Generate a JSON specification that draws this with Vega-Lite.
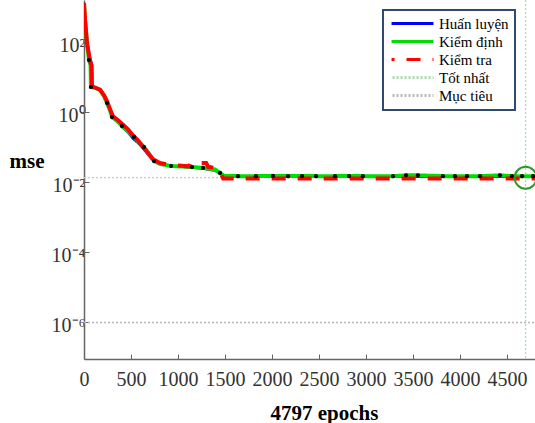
{
  "$schema": "https://vega.github.io/schema/vega-lite/v6.json",
  "width": 451,
  "height": 359,
  "autosize": {"type": "none"},
  "padding": {"left": 84, "top": 0, "right": 0, "bottom": 64},
  "background": "white",
  "config": {
    "view": {"stroke": null},
    "font": "Liberation Serif",
    "axis": {"labelFont": "Liberation Serif", "titleFont": "Liberation Serif"},
    "legend": {"labelFont": "Liberation Serif"}
  },
  "datasets": {
    "curves": [
      {"series": "Mục tiêu", "epoch": 0, "mse": 0.000001},
      {"series": "Mục tiêu", "epoch": 4797, "mse": 0.000001},
      {"series": "Tốt nhất", "epoch": 0, "mse": 0.0137},
      {"series": "Tốt nhất", "epoch": 4797, "mse": 0.0137},

      {"series": "Huấn luyện", "epoch": 0, "mse": 1346},
      {"series": "Huấn luyện", "epoch": 11, "mse": 440},
      {"series": "Huấn luyện", "epoch": 32, "mse": 96.8},
      {"series": "Huấn luyện", "epoch": 64, "mse": 36},
      {"series": "Huấn luyện", "epoch": 85, "mse": 22.8},
      {"series": "Huấn luyện", "epoch": 86, "mse": 5.7},
      {"series": "Huấn luyện", "epoch": 128, "mse": 5.0},
      {"series": "Huấn luyện", "epoch": 170, "mse": 4.4},
      {"series": "Huấn luyện", "epoch": 213, "mse": 2.96},
      {"series": "Huấn luyện", "epoch": 245, "mse": 2.0},
      {"series": "Huấn luyện", "epoch": 277, "mse": 1.15},
      {"series": "Huấn luyện", "epoch": 308, "mse": 0.72},
      {"series": "Huấn luyện", "epoch": 362, "mse": 0.52},
      {"series": "Huấn luyện", "epoch": 415, "mse": 0.37},
      {"series": "Huấn luyện", "epoch": 468, "mse": 0.27},
      {"series": "Huấn luyện", "epoch": 521, "mse": 0.18},
      {"series": "Huấn luyện", "epoch": 574, "mse": 0.135},
      {"series": "Huấn luyện", "epoch": 628, "mse": 0.095},
      {"series": "Huấn luyện", "epoch": 681, "mse": 0.063},
      {"series": "Huấn luyện", "epoch": 734, "mse": 0.043},
      {"series": "Huấn luyện", "epoch": 808, "mse": 0.034},
      {"series": "Huấn luyện", "epoch": 915, "mse": 0.030},
      {"series": "Huấn luyện", "epoch": 1127, "mse": 0.027},
      {"series": "Huấn luyện", "epoch": 1266, "mse": 0.025},
      {"series": "Huấn luyện", "epoch": 1393, "mse": 0.022},
      {"series": "Huấn luyện", "epoch": 1447, "mse": 0.018},
      {"series": "Huấn luyện", "epoch": 1489, "mse": 0.0148},
      {"series": "Huấn luyện", "epoch": 2500, "mse": 0.0147},
      {"series": "Huấn luyện", "epoch": 4797, "mse": 0.0146},

      {"series": "Kiểm định", "epoch": 0, "mse": 1200},
      {"series": "Kiểm định", "epoch": 11, "mse": 420},
      {"series": "Kiểm định", "epoch": 32, "mse": 96.8},
      {"series": "Kiểm định", "epoch": 53, "mse": 31.6},
      {"series": "Kiểm định", "epoch": 70, "mse": 22.8},
      {"series": "Kiểm định", "epoch": 74, "mse": 5.35},
      {"series": "Kiểm định", "epoch": 128, "mse": 5.0},
      {"series": "Kiểm định", "epoch": 170, "mse": 4.4},
      {"series": "Kiểm định", "epoch": 213, "mse": 2.96},
      {"series": "Kiểm định", "epoch": 245, "mse": 1.87},
      {"series": "Kiểm định", "epoch": 277, "mse": 1.15},
      {"series": "Kiểm định", "epoch": 298, "mse": 0.74},
      {"series": "Kiểm định", "epoch": 362, "mse": 0.55},
      {"series": "Kiểm định", "epoch": 404, "mse": 0.41},
      {"series": "Kiểm định", "epoch": 468, "mse": 0.29},
      {"series": "Kiểm định", "epoch": 532, "mse": 0.20},
      {"series": "Kiểm định", "epoch": 574, "mse": 0.15},
      {"series": "Kiểm định", "epoch": 638, "mse": 0.103},
      {"series": "Kiểm định", "epoch": 681, "mse": 0.072},
      {"series": "Kiểm định", "epoch": 745, "mse": 0.041},
      {"series": "Kiểm định", "epoch": 808, "mse": 0.034},
      {"series": "Kiểm định", "epoch": 925, "mse": 0.0296},
      {"series": "Kiểm định", "epoch": 1149, "mse": 0.0277},
      {"series": "Kiểm định", "epoch": 1266, "mse": 0.026},
      {"series": "Kiểm định", "epoch": 1393, "mse": 0.0235},
      {"series": "Kiểm định", "epoch": 1447, "mse": 0.0187},
      {"series": "Kiểm định", "epoch": 1489, "mse": 0.0153},
      {"series": "Kiểm định", "epoch": 1638, "mse": 0.0152},
      {"series": "Kiểm định", "epoch": 1829, "mse": 0.0152},
      {"series": "Kiểm định", "epoch": 2010, "mse": 0.0154},
      {"series": "Kiểm định", "epoch": 2170, "mse": 0.0152},
      {"series": "Kiểm định", "epoch": 2319, "mse": 0.0153},
      {"series": "Kiểm định", "epoch": 2468, "mse": 0.0152},
      {"series": "Kiểm định", "epoch": 2670, "mse": 0.0152},
      {"series": "Kiểm định", "epoch": 2819, "mse": 0.0153},
      {"series": "Kiểm định", "epoch": 2967, "mse": 0.0152},
      {"series": "Kiểm định", "epoch": 3287, "mse": 0.0151},
      {"series": "Kiểm định", "epoch": 3425, "mse": 0.0160},
      {"series": "Kiểm định", "epoch": 3552, "mse": 0.0160},
      {"series": "Kiểm định", "epoch": 3818, "mse": 0.0152},
      {"series": "Kiểm định", "epoch": 3946, "mse": 0.0152},
      {"series": "Kiểm định", "epoch": 4074, "mse": 0.0152},
      {"series": "Kiểm định", "epoch": 4212, "mse": 0.0152},
      {"series": "Kiểm định", "epoch": 4424, "mse": 0.0160},
      {"series": "Kiểm định", "epoch": 4552, "mse": 0.0152},
      {"series": "Kiểm định", "epoch": 4659, "mse": 0.0151},
      {"series": "Kiểm định", "epoch": 4697, "mse": 0.0150},
      {"series": "Kiểm định", "epoch": 4776, "mse": 0.0151},
      {"series": "Kiểm định", "epoch": 4797, "mse": 0.0151},

      {"series": "Kiểm tra", "epoch": 0, "mse": 1346},
      {"series": "Kiểm tra", "epoch": 11, "mse": 440},
      {"series": "Kiểm tra", "epoch": 32, "mse": 96.8},
      {"series": "Kiểm tra", "epoch": 64, "mse": 30},
      {"series": "Kiểm tra", "epoch": 80, "mse": 22},
      {"series": "Kiểm tra", "epoch": 85, "mse": 5.6},
      {"series": "Kiểm tra", "epoch": 128, "mse": 5.0},
      {"series": "Kiểm tra", "epoch": 170, "mse": 4.5},
      {"series": "Kiểm tra", "epoch": 213, "mse": 3.1},
      {"series": "Kiểm tra", "epoch": 245, "mse": 2.1},
      {"series": "Kiểm tra", "epoch": 277, "mse": 1.25},
      {"series": "Kiểm tra", "epoch": 308, "mse": 0.78},
      {"series": "Kiểm tra", "epoch": 362, "mse": 0.6},
      {"series": "Kiểm tra", "epoch": 415, "mse": 0.45},
      {"series": "Kiểm tra", "epoch": 468, "mse": 0.33},
      {"series": "Kiểm tra", "epoch": 521, "mse": 0.22},
      {"series": "Kiểm tra", "epoch": 574, "mse": 0.16},
      {"series": "Kiểm tra", "epoch": 628, "mse": 0.105},
      {"series": "Kiểm tra", "epoch": 681, "mse": 0.07},
      {"series": "Kiểm tra", "epoch": 734, "mse": 0.046},
      {"series": "Kiểm tra", "epoch": 808, "mse": 0.036},
      {"series": "Kiểm tra", "epoch": 915, "mse": 0.032},
      {"series": "Kiểm tra", "epoch": 1120, "mse": 0.029},
      {"series": "Kiểm tra", "epoch": 1135, "mse": 0.036},
      {"series": "Kiểm tra", "epoch": 1300, "mse": 0.036},
      {"series": "Kiểm tra", "epoch": 1320, "mse": 0.028},
      {"series": "Kiểm tra", "epoch": 1400, "mse": 0.026},
      {"series": "Kiểm tra", "epoch": 1447, "mse": 0.02},
      {"series": "Kiểm tra", "epoch": 1480, "mse": 0.0131},
      {"series": "Kiểm tra", "epoch": 4797, "mse": 0.0130}
    ],
    "markers": [
      {"epoch": 53, "mse": 31.6},
      {"epoch": 74, "mse": 5.35},
      {"epoch": 245, "mse": 1.87},
      {"epoch": 298, "mse": 0.74},
      {"epoch": 404, "mse": 0.41},
      {"epoch": 532, "mse": 0.20},
      {"epoch": 638, "mse": 0.103},
      {"epoch": 745, "mse": 0.041},
      {"epoch": 925, "mse": 0.0296},
      {"epoch": 1149, "mse": 0.0277},
      {"epoch": 1266, "mse": 0.026},
      {"epoch": 1447, "mse": 0.0187},
      {"epoch": 1638, "mse": 0.0152},
      {"epoch": 1829, "mse": 0.0152},
      {"epoch": 2010, "mse": 0.0154},
      {"epoch": 2170, "mse": 0.0152},
      {"epoch": 2319, "mse": 0.0153},
      {"epoch": 2468, "mse": 0.0152},
      {"epoch": 2670, "mse": 0.0152},
      {"epoch": 2819, "mse": 0.0153},
      {"epoch": 2967, "mse": 0.0152},
      {"epoch": 3287, "mse": 0.0151},
      {"epoch": 3425, "mse": 0.0160},
      {"epoch": 3552, "mse": 0.0160},
      {"epoch": 3818, "mse": 0.0152},
      {"epoch": 3946, "mse": 0.0152},
      {"epoch": 4074, "mse": 0.0152},
      {"epoch": 4212, "mse": 0.0152},
      {"epoch": 4424, "mse": 0.0160},
      {"epoch": 4552, "mse": 0.0152},
      {"epoch": 4659, "mse": 0.0151},
      {"epoch": 4776, "mse": 0.0151}
    ],
    "best": [
      {"epoch": 4697, "mse": 0.0137}
    ]
  },
  "encoding": {
    "x": {
      "field": "epoch",
      "type": "quantitative",
      "scale": {"domain": [0, 4797], "nice": false, "zero": false},
      "axis": {
        "values": [0, 500, 1000, 1500, 2000, 2500, 3000, 3500, 4000, 4500],
        "format": "d",
        "title": "4797 epochs",
        "grid": false,
        "labelFont": "Liberation Serif",
        "labelFontSize": 20,
        "labelColor": "#333333",
        "labelAngle": 0,
        "labelFlush": false,
        "labelOverlap": false,
        "labelPadding": 15,
        "domainColor": "#666666",
        "domainWidth": 1.5,
        "tickColor": "#666666",
        "tickSize": -5,
        "tickWidth": 1,
        "titleFont": "Liberation Serif",
        "titleFontSize": 21,
        "titleFontWeight": "bold",
        "titleColor": "#000000",
        "titleAlign": "center",
        "titleBaseline": "alphabetic",
        "titleX": 240,
        "titleY": 60
      }
    },
    "y": {
      "field": "mse",
      "type": "quantitative",
      "scale": {"type": "log", "domain": [9.06e-8, 1637], "nice": false},
      "axis": {
        "values": [0.000001, 0.0001, 0.01, 1, 100],
        "labelExpr": "datum.value >= 50 ? '10²' : datum.value >= 0.5 ? '10⁰' : datum.value >= 0.005 ? '10⁻²' : datum.value >= 0.00005 ? '10⁻⁴' : '10⁻⁶'",
        "title": "mse",
        "grid": false,
        "labelFont": "Liberation Serif",
        "labelFontSize": 20,
        "labelColor": "#333333",
        "labelPadding": 4,
        "labelOffset": 3,
        "domainColor": "#666666",
        "domainWidth": 1.5,
        "tickColor": "#666666",
        "tickSize": -5,
        "tickWidth": 1,
        "titleFont": "Liberation Serif",
        "titleFontSize": 21,
        "titleFontWeight": "bold",
        "titleColor": "#000000",
        "titleAngle": 0,
        "titleAlign": "left",
        "titleBaseline": "alphabetic",
        "titleX": -75,
        "titleY": 167
      }
    }
  },
  "layer": [
    {
      "data": {"name": "curves"},
      "transform": [{"filter": "datum.series === 'Mục tiêu' || datum.series === 'Tốt nhất'"}],
      "mark": {"type": "line", "strokeWidth": 1.3, "clip": true},
      "encoding": {
        "detail": {"field": "series"},
        "color": {
          "field": "series", "type": "nominal",
          "scale": {
            "domain": ["Huấn luyện", "Kiểm định", "Kiểm tra", "Tốt nhất", "Mục tiêu"],
            "range": ["#0000ff", "#00dd00", "#ff0000", "#a8dca8", "#b8b8b8"]
          },
          "legend": {
            "title": null,
            "orient": "none",
            "legendX": 299,
            "legendY": 10,
            "symbolType": "M-4,0H4",
            "symbolSize": 110,
            "symbolStrokeWidth": 3,
            "symbolOffset": 16,
            "labelFont": "Liberation Serif",
            "labelFontSize": 15,
            "labelColor": "#000000",
            "labelOffset": 19,
            "labelLimit": 200,
            "fillColor": "white",
            "strokeColor": "#2E4A70",
            "padding": 6,
            "rowPadding": 2,
            "encode": {
              "legend": {"update": {"strokeWidth": {"value": 2}}},
              "symbols": {"update": {"strokeDashOffset": {"value": 11}}}
            }
          }
        },
        "strokeDash": {
          "field": "series", "type": "nominal",
          "scale": {
            "domain": ["Huấn luyện", "Kiểm định", "Kiểm tra", "Tốt nhất", "Mục tiêu"],
            "range": [[1, 0], [1, 0], [14, 12], [2, 2], [2, 2]]
          },
          "legend": {
            "title": null,
            "orient": "none",
            "legendX": 299,
            "legendY": 10,
            "symbolType": "M-4,0H4",
            "symbolSize": 110,
            "symbolStrokeWidth": 3,
            "symbolOffset": 16,
            "labelFont": "Liberation Serif",
            "labelFontSize": 15,
            "labelColor": "#000000",
            "labelOffset": 19,
            "labelLimit": 200,
            "fillColor": "white",
            "strokeColor": "#2E4A70",
            "padding": 6,
            "rowPadding": 2,
            "encode": {
              "legend": {"update": {"strokeWidth": {"value": 2}}},
              "symbols": {"update": {"strokeDashOffset": {"value": 11}}}
            }
          }
        }
      }
    },
    {
      "data": {"name": "best"},
      "mark": {"type": "rule", "color": "#a8dca8", "strokeWidth": 1.3, "strokeDash": [2, 2]},
      "encoding": {"y": null}
    },
    {
      "data": {"name": "curves"},
      "transform": [{"filter": "datum.series === 'Huấn luyện'"}],
      "mark": {"type": "line", "strokeWidth": 2.5, "clip": true},
      "encoding": {
        "color": {"field": "series", "type": "nominal"},
        "strokeDash": {"field": "series", "type": "nominal"}
      }
    },
    {
      "data": {"name": "curves"},
      "transform": [{"filter": "datum.series === 'Kiểm định'"}],
      "mark": {"type": "line", "strokeWidth": 4, "clip": true},
      "encoding": {
        "color": {"field": "series", "type": "nominal"},
        "strokeDash": {"field": "series", "type": "nominal"}
      }
    },
    {
      "data": {"name": "curves"},
      "transform": [{"filter": "datum.series === 'Kiểm tra' && datum.epoch <= 734"}],
      "mark": {"type": "line", "strokeWidth": 4, "clip": true},
      "encoding": {
        "color": {"field": "series", "type": "nominal"}
      }
    },
    {
      "data": {"name": "curves"},
      "transform": [{"filter": "datum.series === 'Kiểm tra' && datum.epoch >= 734"}],
      "mark": {"type": "line", "strokeWidth": 4, "clip": true},
      "encoding": {
        "color": {"field": "series", "type": "nominal"},
        "strokeDash": {"field": "series", "type": "nominal"}
      }
    },
    {
      "data": {"name": "markers"},
      "mark": {"type": "point", "filled": true, "color": "#000000", "size": 18, "opacity": 1},
      "encoding": {}
    },
    {
      "data": {"name": "best"},
      "mark": {"type": "point", "shape": "circle", "filled": false, "color": "#2a9a2a", "strokeWidth": 2, "size": 480, "opacity": 1},
      "encoding": {}
    }
  ]
}
